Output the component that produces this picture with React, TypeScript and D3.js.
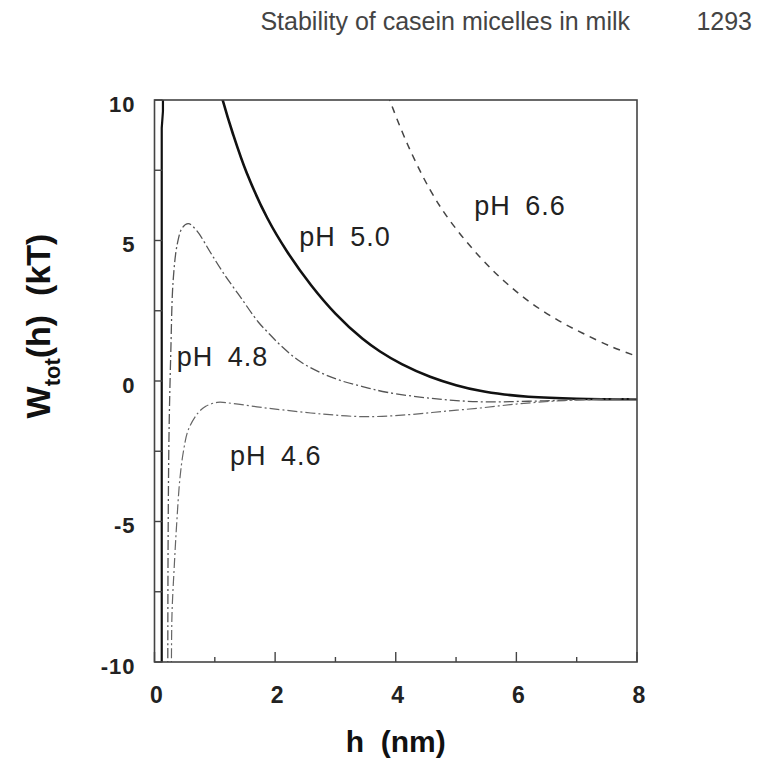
import React, { useEffect, useRef } from 'react'
import * as d3 from 'd3'

// h (nm), W (kT)
const wall: [number, number][] = [[0.14, 10.5], [0.14, 9.6], [0.12, 9.0], [0.12, -10.5]]
const ph50: [number, number][] = [
  [1.1, 10.25], [1.13, 10], [1.3, 8.8], [1.53, 7.4], [1.87, 5.8], [2.2, 4.6], [2.6, 3.4], [3.0, 2.4],
  [3.45, 1.5], [3.74, 1.05], [4.1, 0.6], [4.57, 0.15], [5.0, -0.15], [5.4, -0.35], [5.8, -0.48], [6.2, -0.56],
  [7.0, -0.63], [8.0, -0.65],
]
const ph66: [number, number][] = [
  [3.87, 10.2], [3.9, 10], [4.2, 8.4], [4.57, 6.8], [4.9, 5.7], [5.4, 4.4], [5.8, 3.55], [6.23, 2.8],
  [6.7, 2.15], [7.1, 1.7], [7.6, 1.2], [8.0, 0.88],
]
const ph48: [number, number][] = [
  [0.22, -10.5], [0.225, -6], [0.24, -2], [0.27, 1], [0.31, 3.6], [0.38, 4.9], [0.46, 5.45], [0.56, 5.6],
  [0.7, 5.35], [0.92, 4.6], [1.14, 3.85], [1.42, 3.0], [1.72, 2.1], [1.87, 1.75], [2.1, 1.25], [2.41, 0.7],
  [2.75, 0.3], [3.08, 0.02], [3.45, -0.2], [3.85, -0.4], [4.6, -0.62], [5.4, -0.74], [6.2, -0.72],
  [7.0, -0.67], [8.0, -0.63],
]
const ph46: [number, number][] = [
  [0.28, -10.5], [0.29, -8.3], [0.33, -6.5], [0.37, -5.0], [0.42, -3.5], [0.48, -2.5], [0.56, -1.74], [0.72, -1.14],
  [0.85, -0.9], [1.04, -0.76], [1.3, -0.8], [1.7, -0.92], [2.13, -1.03], [2.8, -1.18], [3.5, -1.27],
  [4.2, -1.2], [4.8, -1.08], [5.4, -0.96], [6.0, -0.82], [6.6, -0.72], [7.2, -0.66], [8.0, -0.63],
]
const xTicks = [0, 2, 4, 6, 8]
const xMinor = [1, 3, 5, 7]
const yTicks = [10, 5, 0, -5, -10]
const yMinor = [7.5, 2.5, -2.5, -7.5]
const labels = [
  { text: 'pH 5.0', h: 2.4, w: 4.8 },
  { text: 'pH 6.6', h: 5.3, w: 5.9 },
  { text: 'pH 4.8', h: 0.37, w: 0.55 },
  { text: 'pH 4.6', h: 1.25, w: -3.0 },
]

export default function App() {
  const svgRef = useRef<SVGSVGElement>(null)

  useEffect(() => {
    const width = 767
    const height = 766
    const left = 154.5, right = 637, top = 100, bottom = 662
    const svg = d3.select(svgRef.current).attr('width', width).attr('height', height)
    svg.selectAll('*').remove()
    svg.append('rect').attr('width', width).attr('height', height).attr('fill', '#fff')

    const x = d3.scaleLinear().domain([0, 8]).range([left, right])
    const y = d3.scaleLinear().domain([-10, 10]).range([bottom, top])
    const font = 'Liberation Sans, Arial, sans-serif'

    // running header
    svg.append('text').attr('x', 630).attr('y', 30).attr('text-anchor', 'end')
      .style('font-family', font).style('font-size', '25px').attr('fill', '#444')
      .text('Stability of casein micelles in milk')
    svg.append('text').attr('x', 752).attr('y', 30).attr('text-anchor', 'end')
      .style('font-family', font).style('font-size', '25px').attr('fill', '#444')
      .text('1293')

    svg.append('clipPath').attr('id', 'plotclip').append('rect')
      .attr('x', left).attr('y', top).attr('width', right - left).attr('height', bottom - top)

    const line = d3.line<[number, number]>().x(d => x(d[0])).y(d => y(d[1])).curve(d3.curveCatmullRom)
    const g = svg.append('g').attr('clip-path', 'url(#plotclip)')

    g.append('path').attr('d', d3.line<[number, number]>().x(d => x(d[0])).y(d => y(d[1]))(wall))
      .attr('fill', 'none').attr('stroke', '#111').attr('stroke-width', 2.2)
    g.append('path').attr('d', line(ph50)).attr('fill', 'none').attr('stroke', '#111').attr('stroke-width', 2.6)
    g.append('path').attr('d', line(ph66)).attr('fill', 'none').attr('stroke', '#444')
      .attr('stroke-width', 1.5).attr('stroke-dasharray', '7,6')
    g.append('path').attr('d', line(ph48)).attr('fill', 'none').attr('stroke', '#555')
      .attr('stroke-width', 1.3).attr('stroke-dasharray', '10,3,2,3')
    g.append('path').attr('d', line(ph46)).attr('fill', 'none').attr('stroke', '#666')
      .attr('stroke-width', 1.2).attr('stroke-dasharray', '10,3,2,3')

    // frame
    svg.append('rect').attr('x', left).attr('y', top).attr('width', right - left).attr('height', bottom - top)
      .attr('fill', 'none').attr('stroke', '#444').attr('stroke-width', 1.6)

    // inward ticks
    const tk = svg.append('g').attr('stroke', '#444').attr('stroke-width', 1.4)
    xTicks.forEach(t => tk.append('line').attr('x1', x(t)).attr('x2', x(t)).attr('y1', bottom).attr('y2', bottom - 10))
    xMinor.forEach(t => tk.append('line').attr('x1', x(t)).attr('x2', x(t)).attr('y1', bottom).attr('y2', bottom - 5))
    yTicks.concat(yMinor).forEach(t => tk.append('line').attr('x1', left).attr('x2', left + 8).attr('y1', y(t)).attr('y2', y(t)))

    svg.append('g').selectAll('text').data(xTicks).join('text')
      .attr('x', d => x(d) + 2).attr('y', bottom + 41).attr('text-anchor', 'middle')
      .style('font-family', font).style('font-size', '23px').style('font-weight', 'bold').attr('fill', '#222')
      .text(d => d)
    svg.append('g').selectAll('text').data(yTicks).join('text')
      .attr('x', left - 19).attr('y', d => y(d) + 11.5).attr('text-anchor', 'end')
      .style('font-family', font).style('font-size', '22px').style('font-weight', 'bold')
      .style('letter-spacing', '1px').attr('fill', '#222')
      .text(d => d)

    svg.append('g').selectAll('text').data(labels).join('text')
      .attr('x', d => x(d.h)).attr('y', d => y(d.w))
      .style('font-family', font).style('font-size', '27px').style('letter-spacing', '1px')
      .style('word-spacing', '6px').attr('fill', '#222')
      .text(d => d.text)

    // axis titles
    svg.append('text').attr('x', (left + right) / 2).attr('y', 752).attr('text-anchor', 'middle')
      .style('font-family', font).style('font-size', '30px').style('font-weight', 'bold').attr('fill', '#111')
      .attr('xml:space', 'preserve').text('h  (nm)')
    const yt = svg.append('text').attr('transform', `translate(50,326) rotate(-90)`)
      .attr('text-anchor', 'middle').style('font-family', font).style('font-size', '34px')
      .style('font-weight', 'bold').attr('fill', '#111').attr('xml:space', 'preserve')
    yt.append('tspan').text('W')
    yt.append('tspan').attr('dy', 10).style('font-size', '22px').text('tot')
    yt.append('tspan').attr('dy', -10).text('(h)  (kT)')
  }, [])

  return <svg ref={svgRef} style={{ position: 'absolute', left: 0, top: 0 }}></svg>
}
